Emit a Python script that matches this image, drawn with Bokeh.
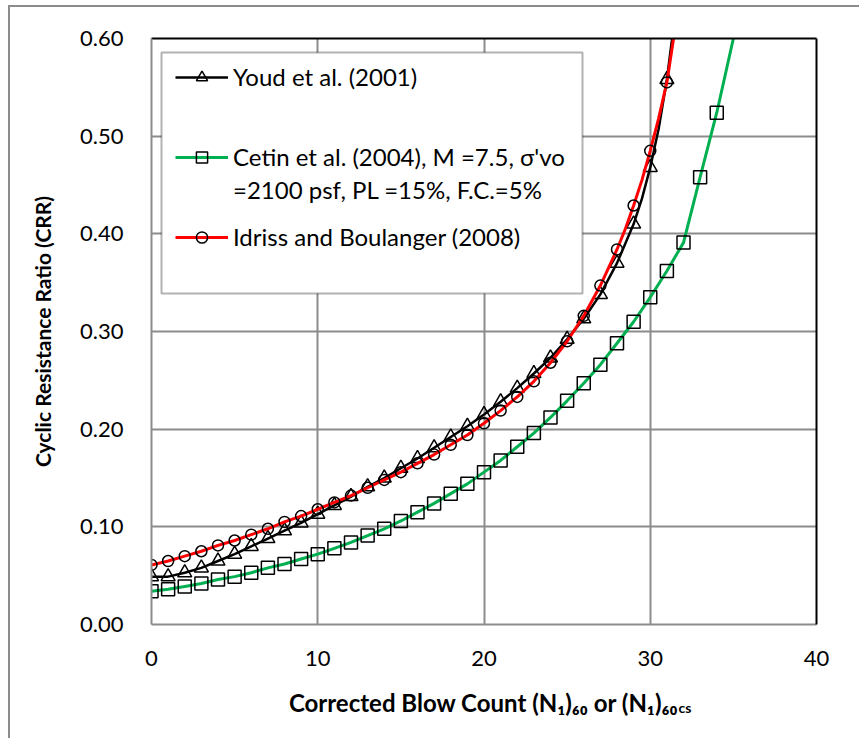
from bokeh.plotting import figure
from bokeh.layouts import column
from bokeh.models import (Range1d, FixedTicker, NumeralTickFormatter, LinearAxis,
                          Legend, LegendItem, BoxAnnotation, Label)
from bokeh.embed import file_html
from bokeh.resources import INLINE

# ---------------- data ----------------
x_ticks = [0, 10, 20, 30, 40]
y_ticks = [0.0, 0.1, 0.2, 0.3, 0.4, 0.5, 0.6]

# Youd et al. (2001) - markers
youd_n = [0, 1, 2, 3, 4, 5, 6, 7, 8, 9, 10, 11, 12, 13, 14, 15, 16, 17, 18, 19,
          20, 21, 22, 23, 24, 25, 26, 27, 28, 29, 30, 31]
youd_crr = [0.049, 0.049, 0.053, 0.058, 0.065, 0.072, 0.080, 0.088, 0.096, 0.104,
            0.113, 0.122, 0.131, 0.141, 0.150, 0.160, 0.170, 0.181, 0.192, 0.203,
            0.215, 0.228, 0.242, 0.257, 0.273, 0.292, 0.313, 0.338, 0.370, 0.410,
            0.468, 0.558]
# Youd curve
youd_line_n = [0, 1, 2, 3, 4, 5, 6, 7, 8, 9, 10, 11, 12, 13, 14, 15, 16, 17, 18, 19,
               20, 21, 22, 23, 24, 25, 26, 27, 28, 29, 29.5, 30, 30.5, 31, 31.3, 31.4]
youd_line_crr = [0.049, 0.049, 0.053, 0.058, 0.065, 0.072, 0.080, 0.088, 0.096, 0.104,
                 0.113, 0.122, 0.131, 0.141, 0.150, 0.160, 0.170, 0.181, 0.192, 0.203,
                 0.215, 0.228, 0.242, 0.257, 0.273, 0.292, 0.313, 0.338, 0.370, 0.410,
                 0.436, 0.468, 0.507, 0.558, 0.598, 0.613]

# Cetin et al. (2004) - markers
cetin_n = [0, 1, 2, 3, 4, 5, 6, 7, 8, 9, 10, 11, 12, 13, 14, 15, 16, 17, 18, 19,
           20, 21, 22, 23, 24, 25, 26, 27, 28, 29, 30, 31, 32, 33, 34]
cetin_crr = [0.034, 0.036, 0.039, 0.042, 0.046, 0.049, 0.053, 0.058, 0.062, 0.067,
             0.072, 0.078, 0.084, 0.091, 0.098, 0.106, 0.115, 0.124, 0.134, 0.144,
             0.156, 0.168, 0.182, 0.196, 0.212, 0.229, 0.247, 0.266, 0.288, 0.310,
             0.335, 0.362, 0.391, 0.458, 0.524]
# Cetin curve
cetin_line_n = [0, 1, 2, 3, 4, 5, 6, 7, 8, 9, 10, 11, 12, 13, 14, 15, 16, 17, 18, 19,
                20, 21, 22, 23, 24, 25, 26, 27, 28, 29, 30, 31, 32, 33, 34, 35, 35.1]
cetin_line_crr = [0.034, 0.036, 0.039, 0.042, 0.046, 0.049, 0.053, 0.058, 0.062, 0.067,
                  0.072, 0.078, 0.084, 0.091, 0.098, 0.106, 0.115, 0.124, 0.134, 0.144,
                  0.156, 0.168, 0.182, 0.196, 0.212, 0.229, 0.247, 0.266, 0.288, 0.310,
                  0.335, 0.362, 0.391, 0.458, 0.524, 0.600, 0.608]

# Idriss and Boulanger (2008) - markers
ib_n = [0, 1, 2, 3, 4, 5, 6, 7, 8, 9, 10, 11, 12, 13, 14, 15, 16, 17, 18, 19,
        20, 21, 22, 23, 24, 25, 26, 27, 28, 29, 30, 31]
ib_crr = [0.061, 0.065, 0.070, 0.075, 0.081, 0.086, 0.092, 0.098, 0.105, 0.111,
          0.118, 0.125, 0.132, 0.140, 0.148, 0.156, 0.165, 0.174, 0.184, 0.194,
          0.206, 0.219, 0.233, 0.249, 0.268, 0.290, 0.316, 0.347, 0.384, 0.429,
          0.485, 0.555]
# Idriss and Boulanger curve
ib_line_n = [0, 1, 2, 3, 4, 5, 6, 7, 8, 9, 10, 11, 12, 13, 14, 15, 16, 17, 18, 19,
             20, 21, 22, 23, 24, 25, 26, 27, 28, 28.5, 29, 29.5, 30, 30.5, 31, 31.4, 31.5]
ib_line_crr = [0.061, 0.065, 0.070, 0.075, 0.081, 0.086, 0.092, 0.098, 0.105, 0.111,
               0.118, 0.125, 0.132, 0.140, 0.148, 0.156, 0.165, 0.174, 0.184, 0.194,
               0.206, 0.219, 0.233, 0.249, 0.268, 0.290, 0.316, 0.347, 0.384, 0.405,
               0.429, 0.455, 0.485, 0.518, 0.555, 0.600, 0.612]

label_youd = "Youd et al. (2001)"
label_cetin_1 = "Cetin et al. (2004), M =7.5, σ'vo"
label_cetin_2 = "=2100 psf, PL =15%, F.C.=5%"
label_ib = "Idriss and Boulanger (2008)"
y_title = "Cyclic Resistance Ratio (CRR)"
x_title_main = "Corrected Blow Count (N₁)₆₀ or (N₁)₆₀"
x_title_sub = "cs"

# ---------------- style ----------------
FONT = "Lato"
GRID = "#8c8c8c"
GREEN = "#00B050"
RED = "#FF0000"
W = 849          # page width minus outer-frame offset
H_MAIN = 673
H_TITLE = 58
B_LEFT, B_RIGHT = 141, 43

p = figure(width=W, height=H_MAIN, x_range=Range1d(0, 40), y_range=Range1d(0, 0.6),
           output_backend="svg", toolbar_location=None,
           min_border_left=B_LEFT, min_border_right=B_RIGHT, min_border_top=31,
           min_border_bottom=56, outline_line_color=None,
           background_fill_color="white", border_fill_color="white")

p.xaxis.ticker = FixedTicker(ticks=x_ticks)
p.yaxis.ticker = FixedTicker(ticks=y_ticks)
p.yaxis.formatter = NumeralTickFormatter(format="0.00")
p.xgrid.ticker = FixedTicker(ticks=x_ticks)
p.ygrid.ticker = FixedTicker(ticks=y_ticks)
for g in (p.xgrid, p.ygrid):
    g.grid_line_color = GRID
    g.grid_line_width = 2

for ax in (p.xaxis, p.yaxis):
    ax.axis_line_color = GRID
    ax.axis_line_width = 2
    ax.major_tick_line_color = None
    ax.minor_tick_line_color = None
    ax.major_label_text_font = FONT
    ax.major_label_text_font_size = "22px"
    ax.major_label_text_color = "black"
p.xaxis.major_label_standoff = 20
p.yaxis.major_label_standoff = 22
p.yaxis.axis_label = y_title
p.yaxis.axis_label_text_font = FONT
p.yaxis.axis_label_text_font_size = "21px"
p.yaxis.axis_label_text_font_style = "bold"
p.yaxis.axis_label_text_color = "black"
p.yaxis.axis_label_standoff = 22

# top / right frame edges in black
for place in ("right", "above"):
    ax = LinearAxis(ticker=FixedTicker(ticks=[]), axis_line_color="black",
                    axis_line_width=2, major_tick_line_color=None,
                    minor_tick_line_color=None)
    p.add_layout(ax, place)

# ---------------- series ----------------
r_y_line = p.line(youd_line_n, youd_line_crr, line_color="black", line_width=2.5)
r_y_pts = p.scatter(youd_n, youd_crr, marker="triangle", size=14, fill_color=None,
                    line_color="black", line_width=1.5)
r_c_line = p.line(cetin_line_n, cetin_line_crr, line_color=GREEN, line_width=3)
r_c_pts = p.scatter(cetin_n, cetin_crr, marker="square", size=13, fill_color=None,
                    line_color="black", line_width=1.5)
r_i_line = p.line(ib_line_n, ib_line_crr, line_color=RED, line_width=3)
r_i_pts = p.scatter(ib_n, ib_crr, marker="circle", size=11, fill_color=None,
                    line_color="black", line_width=1.5)
r_blank = p.line(x=[], y=[], line_alpha=0)

# ---------------- legend ----------------
p.add_layout(BoxAnnotation(left=10, right=431, top=572, bottom=331,
                           left_units="screen", right_units="screen",
                           top_units="screen", bottom_units="screen",
                           fill_color="white", fill_alpha=1,
                           line_color="black", line_width=2))

def make_legend(label, renderers, y):
    lg = Legend(items=[LegendItem(label=label, renderers=renderers)],
                location=(24, y), border_line_color=None, background_fill_alpha=0,
                padding=0, margin=0, spacing=0, glyph_width=53, glyph_height=28,
                label_height=28, label_standoff=5,
                label_text_font=FONT, label_text_font_size="24px",
                label_text_color="black")
    p.add_layout(lg)

make_legend(label_youd, [r_y_line, r_y_pts], 547 - 14)
make_legend(label_cetin_1, [r_c_line, r_c_pts], 467 - 14)
make_legend(label_cetin_2, [r_blank], 434 - 14)
make_legend(label_ib, [r_i_line, r_i_pts], 387 - 14)

# ---------------- x axis title (own strip, with subscripts) ----------------
pt = figure(width=W, height=H_TITLE, x_range=Range1d(0, 1), y_range=Range1d(0, 1),
            output_backend="svg", toolbar_location=None,
            min_border_left=B_LEFT, min_border_right=B_RIGHT,
            min_border_top=0, min_border_bottom=0,
            x_axis_type=None, y_axis_type=None, outline_line_color=None,
            background_fill_color="white", border_fill_color="white")
pt.grid.visible = False
pt.add_layout(Label(x=527, y=36, x_units="screen", y_units="screen",
                    text=x_title_main, text_align="right", text_baseline="alphabetic",
                    text_font=FONT, text_font_size="24px", text_font_style="bold",
                    text_color="black"))
pt.add_layout(Label(x=527, y=31, x_units="screen", y_units="screen",
                    text=x_title_sub, text_align="left", text_baseline="alphabetic",
                    text_font=FONT, text_font_size="14px", text_font_style="bold",
                    text_color="black"))

layout = column(p, pt, spacing=0,
                styles={"margin-left": "8px", "margin-top": "5px",
                        "border-left": "2px solid #8c8c8c",
                        "border-top": "2px solid #8c8c8c"})

open("out.html", "w").write(file_html(layout, INLINE))
